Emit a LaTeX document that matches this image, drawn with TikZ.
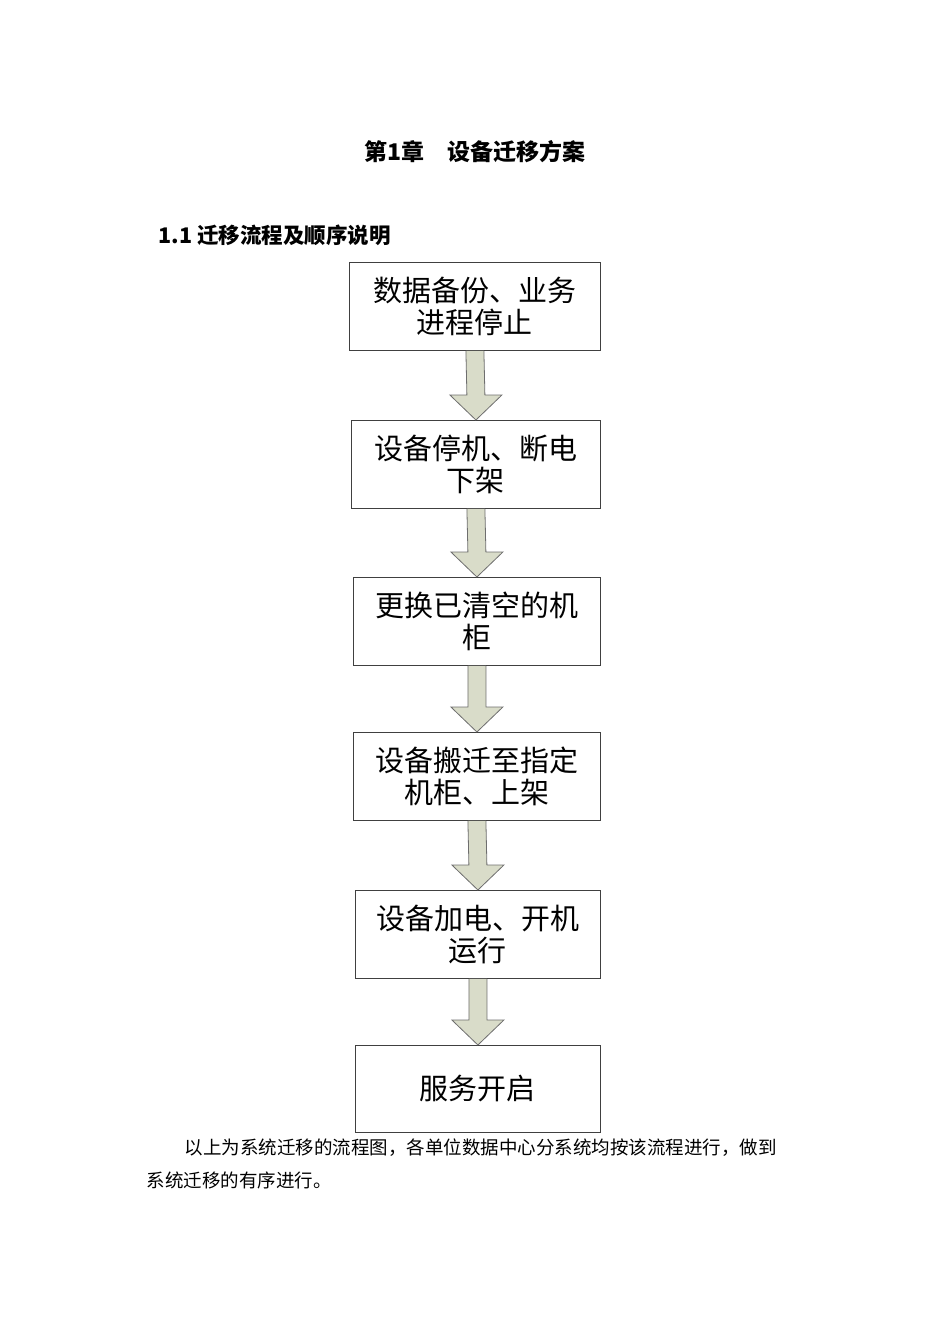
\documentclass[tikz,border=0pt]{standalone}
\usepackage{fontspec}
\setmainfont{Noto Sans CJK SC}
\newfontfamily\cjk{Noto Sans CJK SC}
\usetikzlibrary{calc}
\definecolor{arrfill}{HTML}{D9DCC9}
\definecolor{arredge}{HTML}{6E6E6E}
\tikzset{
  stepbox/.style={draw=black!75,line width=0.8pt,minimum height=88pt,align=center,font=\fontsize{29}{32}\selectfont\cjk\light,inner sep=0pt,anchor=north west},
  fat/.style={fill=arrfill,draw=arredge,line width=0.8pt}
}
\newcommand{\light}{}
\newcommand{\fatarrow}[2]{%
  \draw[fat] ($(#1.south)+(-9pt,0)$) -- ($(#2.north)+(-9pt,25pt)$) -- ($(#2.north)+(-26pt,25pt)$) -- (#2.north) -- ($(#2.north)+(26pt,25pt)$) -- ($(#2.north)+(9pt,25pt)$) -- ($(#1.south)+(9pt,0)$);}
\begin{document}
\begin{tikzpicture}[x=1pt,y=-1pt]
\useasboundingbox (0,0) rectangle (950,1344);
\node[font=\fontsize{23}{26}\selectfont\bfseries] (title) at (475,152) {第1章\quad 设备迁移方案};
\node[anchor=west,font=\fontsize{21.5}{24}\selectfont\bfseries] (sec) at (155,235) {1.1 迁移流程及顺序说明};
\node[stepbox,minimum width=251pt] (b1) at (349,262) {数据备份、业务\\进程停止};
\node[stepbox,minimum width=249pt] (b2) at (351,420) {设备停机、断电\\下架};
\node[stepbox,minimum width=247pt] (b3) at (353,577) {更换已清空的机\\柜};
\node[stepbox,minimum width=247pt] (b4) at (353,732) {设备搬迁至指定\\机柜、上架};
\node[stepbox,minimum width=245pt] (b5) at (355,890) {设备加电、开机\\运行};
\node[stepbox,minimum width=245pt,minimum height=87pt] (b6) at (355,1045) {服务开启};
\fatarrow{b1}{b2}
\fatarrow{b2}{b3}
\fatarrow{b3}{b4}
\fatarrow{b4}{b5}
\fatarrow{b5}{b6}
\node[anchor=west,font=\fontsize{18.5}{22}\selectfont] (p1) at (181,1148) {以上为系统迁移的流程图，各单位数据中心分系统均按该流程进行，做到};
\node[anchor=west,font=\fontsize{18.5}{22}\selectfont] (p2) at (143,1180) {系统迁移的有序进行。};
\end{tikzpicture}
\end{document}
